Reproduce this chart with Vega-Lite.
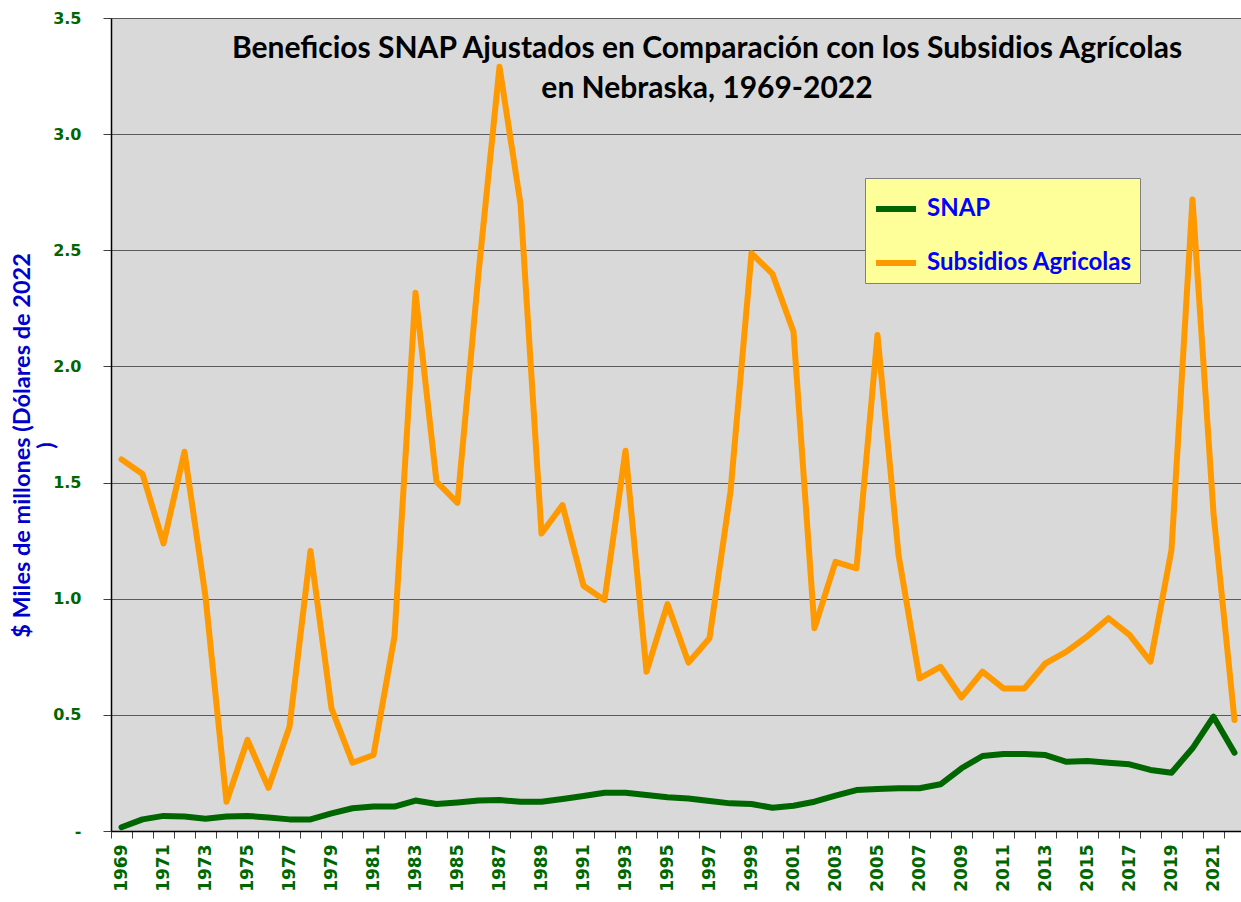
{
  "$schema": "https://vega.github.io/schema/vega-lite/v6.json",
  "width": 1130,
  "height": 813,
  "autosize": {"type": "none"},
  "padding": {"left": 111, "top": 18, "right": 0, "bottom": 71},
  "background": "white",
  "title": {
    "text": ["Beneficios SNAP Ajustados en Comparación con los Subsidios Agrícolas", "en Nebraska, 1969-2022"],
    "font": "Lato",
    "fontSize": 30,
    "fontWeight": "bold",
    "color": "black",
    "anchor": "middle",
    "baseline": "top",
    "offset": 0,
    "dx": 31,
    "dy": 94,
    "lineHeight": 40
  },
  "data": {
    "values": [
      {"year": 1969, "SNAP": 0.016, "Subsidios Agricolas": 1.600},
      {"year": 1970, "SNAP": 0.050, "Subsidios Agricolas": 1.537},
      {"year": 1971, "SNAP": 0.065, "Subsidios Agricolas": 1.238},
      {"year": 1972, "SNAP": 0.062, "Subsidios Agricolas": 1.633},
      {"year": 1973, "SNAP": 0.053, "Subsidios Agricolas": 1.009},
      {"year": 1974, "SNAP": 0.062, "Subsidios Agricolas": 0.126},
      {"year": 1975, "SNAP": 0.065, "Subsidios Agricolas": 0.392},
      {"year": 1976, "SNAP": 0.058, "Subsidios Agricolas": 0.186},
      {"year": 1977, "SNAP": 0.050, "Subsidios Agricolas": 0.449},
      {"year": 1978, "SNAP": 0.050, "Subsidios Agricolas": 1.206},
      {"year": 1979, "SNAP": 0.076, "Subsidios Agricolas": 0.528},
      {"year": 1980, "SNAP": 0.098, "Subsidios Agricolas": 0.294},
      {"year": 1981, "SNAP": 0.105, "Subsidios Agricolas": 0.327},
      {"year": 1982, "SNAP": 0.105, "Subsidios Agricolas": 0.837},
      {"year": 1983, "SNAP": 0.131, "Subsidios Agricolas": 2.317},
      {"year": 1984, "SNAP": 0.116, "Subsidios Agricolas": 1.504},
      {"year": 1985, "SNAP": 0.123, "Subsidios Agricolas": 1.413},
      {"year": 1986, "SNAP": 0.131, "Subsidios Agricolas": 2.400},
      {"year": 1987, "SNAP": 0.133, "Subsidios Agricolas": 3.290},
      {"year": 1988, "SNAP": 0.126, "Subsidios Agricolas": 2.700},
      {"year": 1989, "SNAP": 0.126, "Subsidios Agricolas": 1.281},
      {"year": 1990, "SNAP": 0.138, "Subsidios Agricolas": 1.403},
      {"year": 1991, "SNAP": 0.151, "Subsidios Agricolas": 1.056},
      {"year": 1992, "SNAP": 0.165, "Subsidios Agricolas": 0.994},
      {"year": 1993, "SNAP": 0.165, "Subsidios Agricolas": 1.637},
      {"year": 1994, "SNAP": 0.155, "Subsidios Agricolas": 0.686},
      {"year": 1995, "SNAP": 0.145, "Subsidios Agricolas": 0.977},
      {"year": 1996, "SNAP": 0.140, "Subsidios Agricolas": 0.725},
      {"year": 1997, "SNAP": 0.129, "Subsidios Agricolas": 0.830},
      {"year": 1998, "SNAP": 0.119, "Subsidios Agricolas": 1.461},
      {"year": 1999, "SNAP": 0.116, "Subsidios Agricolas": 2.487},
      {"year": 2000, "SNAP": 0.100, "Subsidios Agricolas": 2.398},
      {"year": 2001, "SNAP": 0.109, "Subsidios Agricolas": 2.149},
      {"year": 2002, "SNAP": 0.126, "Subsidios Agricolas": 0.873},
      {"year": 2003, "SNAP": 0.152, "Subsidios Agricolas": 1.159},
      {"year": 2004, "SNAP": 0.176, "Subsidios Agricolas": 1.131},
      {"year": 2005, "SNAP": 0.181, "Subsidios Agricolas": 2.135},
      {"year": 2006, "SNAP": 0.184, "Subsidios Agricolas": 1.190},
      {"year": 2007, "SNAP": 0.184, "Subsidios Agricolas": 0.657},
      {"year": 2008, "SNAP": 0.201, "Subsidios Agricolas": 0.707},
      {"year": 2009, "SNAP": 0.270, "Subsidios Agricolas": 0.575},
      {"year": 2010, "SNAP": 0.323, "Subsidios Agricolas": 0.686},
      {"year": 2011, "SNAP": 0.331, "Subsidios Agricolas": 0.614},
      {"year": 2012, "SNAP": 0.331, "Subsidios Agricolas": 0.614},
      {"year": 2013, "SNAP": 0.327, "Subsidios Agricolas": 0.722},
      {"year": 2014, "SNAP": 0.298, "Subsidios Agricolas": 0.772},
      {"year": 2015, "SNAP": 0.301, "Subsidios Agricolas": 0.839},
      {"year": 2016, "SNAP": 0.294, "Subsidios Agricolas": 0.916},
      {"year": 2017, "SNAP": 0.287, "Subsidios Agricolas": 0.844},
      {"year": 2018, "SNAP": 0.263, "Subsidios Agricolas": 0.729},
      {"year": 2019, "SNAP": 0.251, "Subsidios Agricolas": 1.210},
      {"year": 2020, "SNAP": 0.356, "Subsidios Agricolas": 2.719},
      {"year": 2021, "SNAP": 0.492, "Subsidios Agricolas": 1.368},
      {"year": 2022, "SNAP": 0.337, "Subsidios Agricolas": 0.478}
    ]
  },
  "transform": [{"fold": ["SNAP", "Subsidios Agricolas"], "as": ["serie", "valor"]}],
  "mark": {"type": "line", "strokeWidth": 6, "strokeJoin": "round", "strokeCap": "round"},
  "encoding": {
    "x": {
      "field": "year",
      "type": "quantitative",
      "scale": {"domain": [1968.5, 2022.31], "nice": false, "zero": false},
      "axis": {
        "title": null,
        "values": [1968.5, 1969.5, 1970.5, 1971.5, 1972.5, 1973.5, 1974.5, 1975.5, 1976.5, 1977.5, 1978.5, 1979.5, 1980.5, 1981.5, 1982.5, 1983.5, 1984.5, 1985.5, 1986.5, 1987.5, 1988.5, 1989.5, 1990.5, 1991.5, 1992.5, 1993.5, 1994.5, 1995.5, 1996.5, 1997.5, 1998.5, 1999.5, 2000.5, 2001.5, 2002.5, 2003.5, 2004.5, 2005.5, 2006.5, 2007.5, 2008.5, 2009.5, 2010.5, 2011.5, 2012.5, 2013.5, 2014.5, 2015.5, 2016.5, 2017.5, 2018.5, 2019.5, 2020.5, 2021.5],
        "labelExpr": "datum.value % 2 == 0.5 ? format(datum.value + 0.5, 'd') : ''",
        "labelOffset": 10.5,
        "labelAngle": -90,
        "labelAlign": "right",
        "labelBaseline": "middle",
        "labelFlush": false,
        "labelOverlap": false,
        "labelBound": false,
        "labelFont": "DejaVu Sans",
        "labelFontWeight": "bold",
        "labelFontSize": 17,
        "labelColor": "#006600",
        "labelPadding": 6,
        "tickSize": 7,
        "tickColor": "#404040",
        "tickWidth": 1,
        "domainColor": "black",
        "domainWidth": 1.5,
        "grid": false
      }
    },
    "y": {
      "field": "valor",
      "type": "quantitative",
      "scale": {"domain": [0, 3.5], "nice": false},
      "axis": {
        "values": [0, 0.5, 1, 1.5, 2, 2.5, 3, 3.5],
        "labelExpr": "datum.value == 0 ? '-' : format(datum.value, '.1f')",
        "labelFont": "DejaVu Sans",
        "labelFontWeight": "bold",
        "labelFontSize": 16,
        "labelColor": "#006600",
        "labelPadding": 22,
        "tickSize": 8,
        "tickColor": "#404040",
        "domainColor": "black",
        "domainWidth": 1.5,
        "grid": true,
        "gridColor": "#5a5a5a",
        "gridWidth": 1.2,
        "title": ["$ Miles de millones (Dólares de 2022", ")"],
        "titleFont": "Lato",
        "titleFontSize": 23.5,
        "titleFontWeight": "bold",
        "titleColor": "#0000CC",
        "titleAngle": -90,
        "titleAlign": "center",
        "titleBaseline": "top",
        "titleX": -101,
        "titleY": 427,
        "titleLineHeight": 24
      }
    },
    "color": {
      "field": "serie",
      "type": "nominal",
      "scale": {"domain": ["SNAP", "Subsidios Agricolas"], "range": ["#006600", "#FF9900"]},
      "legend": {
        "title": null,
        "orient": "none",
        "legendX": 754,
        "legendY": 160,
        "fillColor": "#FFFF99",
        "strokeColor": "#7F7F7F",
        "padding": 8,
        "symbolType": "stroke",
        "symbolSize": 1600,
        "symbolStrokeWidth": 6,
        "labelFont": "Lato",
        "labelFontSize": 24,
        "labelFontWeight": "bold",
        "labelColor": "#0000FF",
        "labelOffset": 8,
        "labelLimit": 400,
        "rowPadding": 19
      }
    }
  },
  "config": {
    "view": {"fill": "#D9D9D9", "stroke": null}
  }
}
